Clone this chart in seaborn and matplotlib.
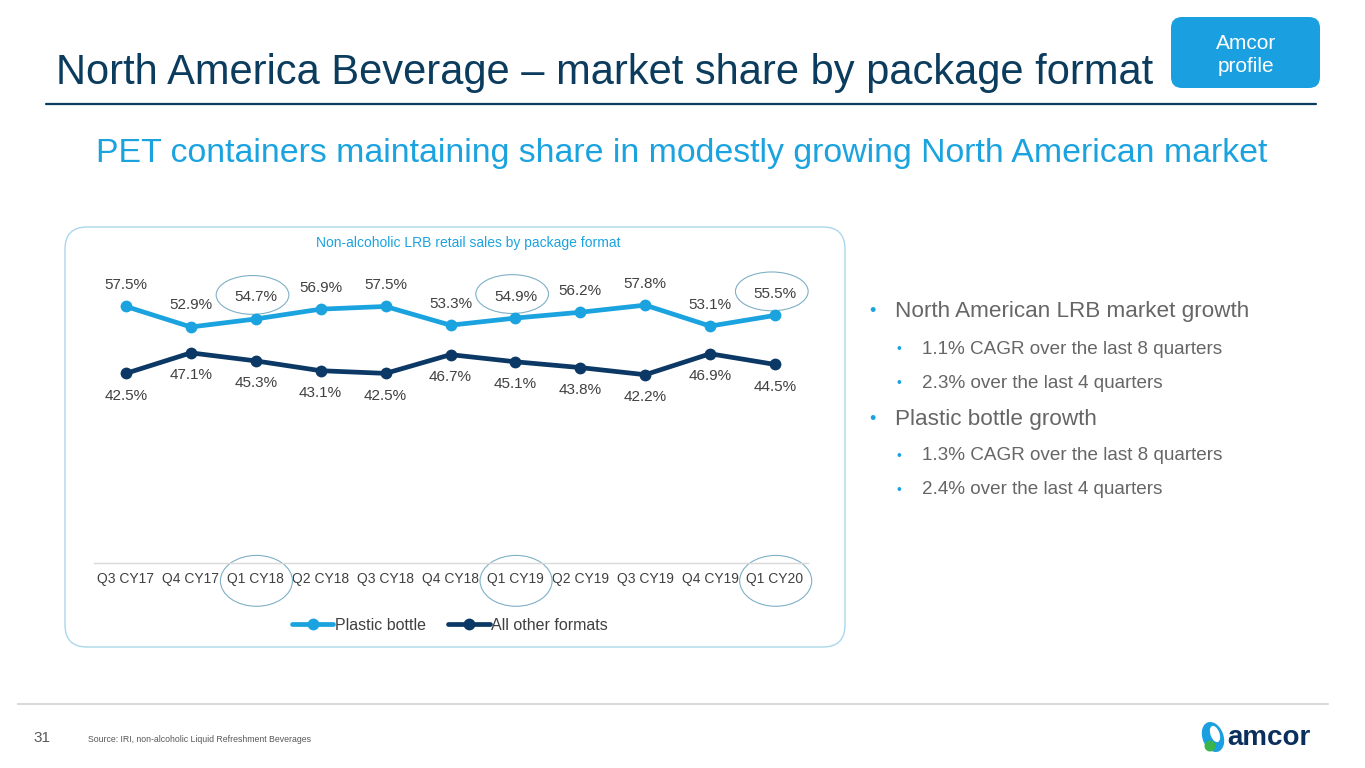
import pandas as pd
import matplotlib.pyplot as plt
import seaborn as sns
from matplotlib.patches import FancyBboxPatch, Ellipse
from matplotlib.lines import Line2D

# data
quarters = ["Q3 CY17", "Q4 CY17", "Q1 CY18", "Q2 CY18", "Q3 CY18", "Q4 CY18",
            "Q1 CY19", "Q2 CY19", "Q3 CY19", "Q4 CY19", "Q1 CY20"]
plastic_bottle = [57.5, 52.9, 54.7, 56.9, 57.5, 53.3, 54.9, 56.2, 57.8, 53.1, 55.5]
all_other = [42.5, 47.1, 45.3, 43.1, 42.5, 46.7, 45.1, 43.8, 42.2, 46.9, 44.5]
series_names = ["Plastic bottle", "All other formats"]
series_colors = ["#1ba3df", "#0b3865"]

bullets = [
    (0, "North American LRB market growth"),
    (1, "1.1% CAGR over the last 8 quarters"),
    (1, "2.3% over the last 4 quarters"),
    (0, "Plastic bottle growth"),
    (1, "1.3% CAGR over the last 8 quarters"),
    (1, "2.4% over the last 4 quarters"),
]

NAVY = "#0b3c5d"
BLUE = "#1ba3df"
GREY = "#404040"
BULLET_GREY = "#666666"


def main():
    sns.set_style("white")
    plt.rcParams['font.family'] = ['Liberation Sans', 'DejaVu Sans']

    df = pd.DataFrame({
        'quarter': quarters * 2,
        'share': plastic_bottle + all_other,
        'format': [series_names[0]] * len(quarters) + [series_names[1]] * len(quarters),
    })

    W, H = 1365, 768
    fig = plt.figure(figsize=(W / 100, H / 100), dpi=100)

    # background layer in pixel coordinates for the slide furniture
    bg = fig.add_axes([0, 0, 1, 1], zorder=0)
    bg.set_xlim(0, W)
    bg.set_ylim(H, 0)
    bg.axis('off')

    bg.text(56, 84, "North America Beverage \u2013 market share by package format",
            fontsize=30, color=NAVY, va='baseline', ha='left')
    bg.plot([46, 1316], [104, 104], color=NAVY, lw=1.6)

    badge = FancyBboxPatch((1171, 17), 149, 71, boxstyle="round,pad=0,rounding_size=11",
                           fc="#1a9fe0", ec="none")
    bg.add_patch(badge)
    bg.text(1246, 55, "Amcor\nprofile", color='white', fontsize=15,
            ha='center', va='center', linespacing=1.3)

    bg.text(96, 162, "PET containers maintaining share in modestly growing North American market",
            fontsize=24.4, color=BLUE, va='baseline', ha='left')

    # rounded frame round the chart
    frame = FancyBboxPatch((65, 227), 780, 420, boxstyle="round,pad=0,rounding_size=22",
                           fc='none', ec="#a9d8ec", lw=1.0)
    bg.add_patch(frame)
    bg.text(468, 243, "Non-alcoholic LRB retail sales by package format",
            fontsize=10, color=BLUE, ha='center', va='center')

    # bullets on the right
    y = 312
    prev = None
    for level, txt in bullets:
        if prev is not None:
            if level == 1 and prev == 1:
                y += 34
            elif level == 1:
                y += 37
            else:
                y += 36
        if level == 0:
            bg.text(872, y, "\u2022", color=BLUE, fontsize=13, va='center', ha='center')
            bg.text(895, y, txt, color=BULLET_GREY, fontsize=16.2, va='center')
        else:
            bg.text(899, y, "\u2022", color=BLUE, fontsize=10, va='center', ha='center')
            bg.text(922, y, txt, color=BULLET_GREY, fontsize=13.6, va='center')
        prev = level

    # footer
    bg.plot([18, 1328], [704, 704], color="#d9d9d9", lw=1.5)
    bg.text(33, 738, "31", fontsize=11, color="#595959", va='center')
    bg.text(88, 739, "Source: IRI, non-alcoholic Liquid Refreshment Beverages",
            fontsize=6.3, color="#595959", va='center')
    bg.add_patch(Ellipse((1213, 737), 21, 31, angle=-20, fc="#1a9fe0", ec='none'))
    bg.add_patch(Ellipse((1210, 746), 11, 11, angle=-20, fc="#3bb54a", ec='none'))
    bg.add_patch(Ellipse((1215, 734), 9, 17, angle=-20, fc='white', ec='none'))
    bg.text(1227, 738, "amcor", fontsize=20, color="#0b2f5c", fontweight='bold',
            va='center', ha='left')

    # chart itself
    ax = fig.add_axes([93.5 / W, 1 - 563 / H, 714 / W, 290 / H], zorder=1)
    ax.patch.set_alpha(0)
    sns.lineplot(data=df, x='quarter', y='share', hue='format', palette=series_colors,
                 marker='o', markersize=8.5, markeredgewidth=0, linewidth=3.4,
                 sort=False, ax=ax, legend=False)
    ax.set_xlim(-0.5, len(quarters) - 0.5)
    ax.set_ylim(0, 65)
    ax.set_xlabel("")
    ax.set_ylabel("")
    ax.set_yticks([])
    for s in ['top', 'left', 'right']:
        ax.spines[s].set_visible(False)
    ax.spines['bottom'].set_color("#d9d9d9")
    ax.spines['bottom'].set_linewidth(1.0)
    ax.tick_params(axis='x', length=0, pad=6.5, labelsize=10, labelcolor=GREY)

    for i, v in enumerate(plastic_bottle):
        ax.annotate(f"{v:.1f}%", (i, v), xytext=(0, 15.5), textcoords='offset points',
                    ha='center', va='center', fontsize=11, color=GREY)
    for i, v in enumerate(all_other):
        ax.annotate(f"{v:.1f}%", (i, v), xytext=(0, -16), textcoords='offset points',
                    ha='center', va='center', fontsize=11, color=GREY)

    # circle the Q1 quarters (label and tick)
    for i, q in enumerate(quarters):
        if q.startswith("Q1") and i > 0:
            label_y = plastic_bottle[i] + 24 / 4.46
            ax.add_patch(Ellipse((i - 0.05, label_y), 1.12, 8.7, fc='none',
                                 ec="#7fb0c6", lw=0.8, clip_on=False))
            ax.add_patch(Ellipse((i + 0.01, -4.0), 1.11, 11.4, fc='none',
                                 ec="#7fb0c6", lw=0.8, clip_on=False))

    handles = [Line2D([0], [0], color=c, lw=3.4, marker='o', markersize=8.5,
                      markeredgewidth=0) for c in series_colors]
    ax.legend(handles, series_names, loc='center', bbox_to_anchor=(450 / W, 1 - 625 / H),
              bbox_transform=fig.transFigure, ncol=2, frameon=False, handlelength=2.6,
              handletextpad=0.1, columnspacing=1.4, fontsize=11.5, labelcolor=GREY)

    fig.savefig("out.png", dpi=100)
    plt.close(fig)


if __name__ == "__main__":
    main()
